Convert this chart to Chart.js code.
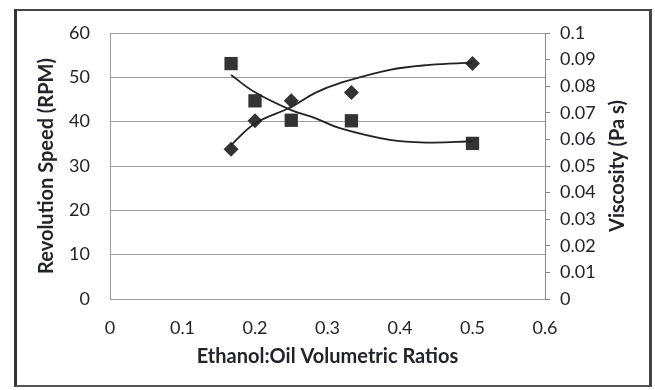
<!DOCTYPE html>
<html><head><meta charset="utf-8">
<script src="https://cdn.jsdelivr.net/npm/chart.js@4"></script>
<style>
html,body{margin:0;padding:0;background:#fff;}
#wrap{position:relative;width:655px;height:390px;}
#frame{position:absolute;left:14px;top:9px;width:632px;height:374px;border:2px solid #555;border-left:3px solid #333;border-top:2px solid #444;border-right:3px solid #444;}
canvas{position:absolute;left:0;top:0;}
</style></head>
<body>
<div id="wrap"><div id="frame"></div><canvas id="c" width="655" height="390"></canvas></div>
<script>
// Ethanol:Oil volumetric ratios
const ratios = [0.167, 0.2, 0.25, 0.333, 0.5];
// Revolution speed (RPM) - diamonds, left axis
const rpm = [33.8, 40.2, 44.7, 46.6, 53.1];
// Viscosity (Pa s) - squares, right axis
const viscosity = [0.0885, 0.0745, 0.0672, 0.067, 0.0585];
// Trendlines
const trendX = [0.167, 0.2, 0.25, 0.283, 0.317, 0.386, 0.441, 0.5];
const rpmTrend = [34.7, 39.6, 43.3, 46.5, 48.7, 51.7, 52.8, 53.3];
const viscTrend = [0.0842, 0.0777, 0.0710, 0.0680, 0.0642, 0.0598, 0.0588, 0.0593];

const xTicks = [0, 0.1, 0.2, 0.3, 0.4, 0.5, 0.6];
const rightTitle = 'Viscosity (Pa s)';
const toPts = (xs, ys) => xs.map((x, i) => ({x: x, y: ys[i]}));

const FONT = "Lato, 'Open Sans', sans-serif";
const INK = '#23232b';
const GRID = '#9c9c9c';

// Right-axis title reading bottom-to-top, like the reference
const rightTitlePlugin = {
  id: 'rightTitle',
  afterDraw(chart) {
    const s = chart.scales.y1;
    const ctx = chart.ctx;
    ctx.save();
    ctx.translate(s.right - 12, (s.top + s.bottom) / 2);
    ctx.rotate(-Math.PI / 2);
    ctx.font = "bold 20px " + FONT;
    ctx.fillStyle = INK;
    ctx.textAlign = 'center';
    ctx.textBaseline = 'middle';
    ctx.fillText(rightTitle, 0, 0);
    ctx.restore();
  }
};

new Chart(document.getElementById('c'), {
  type: 'scatter',
  data: {
    datasets: [
      { label: 'RPM trend', data: toPts(trendX, rpmTrend), yAxisID: 'y', showLine: true,
        borderColor: '#222', borderWidth: 1.8, pointRadius: 0, tension: 0.4, fill: false },
      { label: 'Viscosity trend', data: toPts(trendX, viscTrend), yAxisID: 'y1', showLine: true,
        borderColor: '#222', borderWidth: 1.8, pointRadius: 0, tension: 0.4, fill: false },
      { label: 'Revolution Speed', data: toPts(ratios, rpm), yAxisID: 'y',
        pointStyle: 'rectRot', pointRadius: 7.5, backgroundColor: '#333', borderColor: '#333', borderWidth: 0 },
      { label: 'Viscosity', data: toPts(ratios, viscosity), yAxisID: 'y1',
        pointStyle: 'rect', pointRadius: 9.4, backgroundColor: '#333', borderColor: '#333', borderWidth: 0 }
    ]
  },
  options: {
    responsive: false,
    animation: false,
    layout: { padding: { left: 30, right: 25, top: 33, bottom: 21 } },
    plugins: { legend: { display: false }, tooltip: { enabled: false } },
    scales: {
      x: {
        type: 'linear', min: 0, max: 0.6,
        afterBuildTicks: s => { s.ticks = xTicks.map(v => ({value: v})); },
        afterFit: s => { s.height = 70; },
        grid: { display: false, drawTicks: false },
        border: { display: false },
        ticks: { padding: 18, color: INK, font: { family: FONT, size: 18 },
                 callback: v => String(v) },
        title: { display: true, text: 'Ethanol:Oil Volumetric Ratios', color: INK,
                 font: { family: FONT, size: 20, weight: 'bold' }, padding: { top: 0, bottom: 0 } }
      },
      y: {
        position: 'left', min: 0, max: 60,
        afterFit: s => { s.width = 80; },
        grid: { color: GRID, lineWidth: 1, drawTicks: false },
        border: { display: true, color: GRID, width: 1 },
        ticks: { stepSize: 10, padding: 20, color: INK, font: { family: FONT, size: 18 } },
        title: { display: true, text: 'Revolution Speed (RPM)', color: INK,
                 font: { family: FONT, size: 20, weight: 'bold' }, padding: { top: 5, bottom: 0 } }
      },
      y1: {
        position: 'right', min: 0, max: 0.1,
        afterFit: s => { s.width = 85; },
        grid: { drawOnChartArea: false, drawTicks: true, tickLength: 5, color: '#888' },
        border: { display: true, color: '#888', width: 1 },
        ticks: { stepSize: 0.01, padding: 10, color: INK, font: { family: FONT, size: 18 },
                 callback: v => String(Math.round(v * 100) / 100) },
        title: { display: false }
      }
    }
  },
  plugins: [rightTitlePlugin]
});
</script>
</body></html>
